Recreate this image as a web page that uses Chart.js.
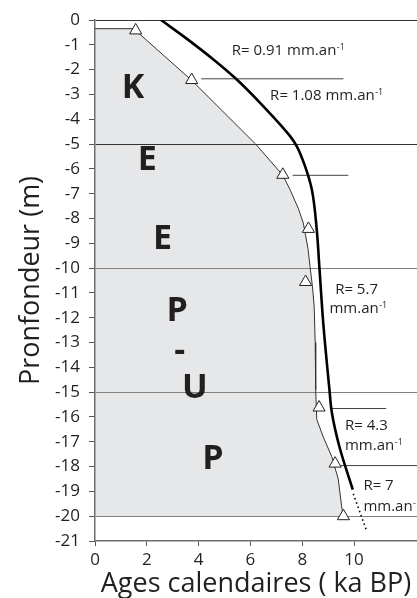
<!DOCTYPE html>
<html><head><meta charset="utf-8">
<script src="https://cdn.jsdelivr.net/npm/chart.js@4"></script>
<style>html,body{margin:0;padding:0;background:#fff}canvas{display:block}</style>
</head><body>
<canvas id="c" width="417" height="598"></canvas>
<script>
// Depth profile (thin line, filled area) : age (ka BP) vs depth (m)
const profileAges   = [0, 1.5, 1.6, 3.75, 6.2, 7.25, 7.53, 7.85, 8.04, 8.22, 8.3, 8.4, 8.46, 8.5, 8.52, 8.56, 8.81, 9.14, 9.39, 9.52, 9.58];
const profileDepths = [-0.35, -0.35, -0.45, -2.45, -5.0, -6.26, -6.84, -7.6, -8.18, -9.2, -9.93, -10.8, -11.54, -13.0, -14.9, -16.1, -16.8, -17.6, -18.5, -19.6, -20.0];
// Age model (thick line)
const modelAges   = [2.55, 3.6, 4.57, 5.4, 6.5, 7.53, 7.79, 8.11, 8.37, 8.56, 8.66, 8.81, 9.05, 9.14, 9.43, 9.95];
const modelDepths = [0, -0.8, -1.59, -2.33, -3.48, -4.68, -5.09, -5.9, -6.83, -8.45, -9.93, -12.2, -14.9, -15.8, -17.18, -18.93];
// Extrapolation (dotted)
const extAges   = [9.97, 10.49];
const extDepths = [-19.1, -20.6];
// Dated samples (triangles)
const sampleAges   = [1.57, 3.73, 7.25, 8.24, 8.13, 8.65, 9.27, 9.59];
const sampleDepths = [-0.42, -2.42, -6.24, -8.42, -10.56, -15.62, -17.88, -20.0];
// Short horizontal marker lines
const markStart = [4.1, 7.63, 9.07, 9.46];
const markEnd   = [9.59, 9.78, 11.24, 12.43];
const markDepth = [-2.37, -6.26, -15.66, -17.96];
// Sedimentation rate labels
const rateTexts  = ['R= 0.91 mm.an', 'R= 1.08 mm.an', 'R= 5.7', 'mm.an', 'R= 4.3', 'mm.an', 'R= 7', 'mm.an'];
const rateSups   = ['-1', '-1', '', '-1', '', '-1', '', '-1'];
const rateAges   = [5.28, 6.76, 9.27, 9.05, 9.65, 9.65, 10.36, 10.36];
const rateDepths = [-1.43, -3.23, -11.03, -11.81, -16.54, -17.32, -18.93, -19.8];
// Unit letters
const unitLetters = ['K', 'E', 'E', 'P', '-', 'U', 'P'];
const unitAges    = [1.47, 2.02, 2.61, 3.17, 3.27, 3.85, 4.55];
const unitDepths  = [-3.14, -6.03, -9.23, -12.15, -13.73, -15.24, -18.1];
// Axis ticks
const ageTicks = [0, 2, 4, 6, 8, 10];
const ageMax = 12.43;
const depthMin = -21, depthMax = 0;

const pts = (xs, ys) => xs.map((x, i) => ({x, y: ys[i]}));
const INK = '#231f20';
const FONT = "'Open Sans'";

const markSets = markDepth.map((d, i) => ({
  data: [{x: markStart[i], y: d}, {x: markEnd[i], y: d}],
  borderColor: '#444', borderWidth: 1, pointRadius: 0, fill: false
}));

const textPlugin = {
  id: 'texts',
  afterDatasetsDraw(chart) {
    const {ctx, scales: {x, y}} = chart;
    ctx.save();
    ctx.fillStyle = INK;
    ctx.textBaseline = 'alphabetic';
    ctx.textAlign = 'center';
    ctx.font = "bold 34px " + FONT;
    unitLetters.forEach((t, i) => {
      ctx.fillText(t, x.getPixelForValue(unitAges[i]), y.getPixelForValue(unitDepths[i]));
    });
    ctx.textAlign = 'left';
    rateTexts.forEach((t, i) => {
      const px = x.getPixelForValue(rateAges[i]);
      const py = y.getPixelForValue(rateDepths[i]);
      ctx.font = "15px " + FONT;
      ctx.fillText(t, px, py);
      if (rateSups[i]) {
        const w = ctx.measureText(t).width;
        ctx.font = "9px " + FONT;
        ctx.fillText(rateSups[i], px + w + 0.5, py - 5);
      }
    });
    ctx.restore();
  }
};

new Chart(document.getElementById('c'), {
  type: 'line',
  data: {
    datasets: [
      {
        data: pts(sampleAges, sampleDepths), showLine: false,
        pointStyle: 'triangle', pointRadius: 7, pointBackgroundColor: '#fff',
        pointBorderColor: INK, pointBorderWidth: 1, fill: false
      },
      {
        data: pts(modelAges, modelDepths), borderColor: '#000', borderWidth: 2.6,
        pointRadius: 0, cubicInterpolationMode: 'monotone', fill: false
      },
      {
        data: pts(extAges, extDepths), borderColor: '#000', borderWidth: 1.6,
        borderDash: [1.5, 3], pointRadius: 0, fill: false
      },
      ...markSets,
      {
        data: pts(profileAges, profileDepths), borderColor: '#333', borderWidth: 1,
        pointRadius: 0, fill: 'origin', backgroundColor: '#e6e7e8'
      }
    ]
  },
  options: {
    responsive: false, animation: false, devicePixelRatio: 1,
    indexAxis: 'y',
    layout: {autoPadding: false, padding: {top: 20, left: 0, right: 0, bottom: 0}},
    plugins: {legend: {display: false}, tooltip: {enabled: false}, filler: {drawTime: 'beforeDraw'}},
    scales: {
      x: {
        type: 'linear', min: 0, max: ageMax,
        afterBuildTicks: s => { s.ticks = ageTicks.map(v => ({value: v})); },
        afterFit: s => { s.height = 57; s.paddingLeft = 0; s.paddingRight = 0; },
        ticks: {color: INK, font: {family: FONT, size: 17}, padding: 4, maxRotation: 0, autoSkip: false},
        grid: {color: 'transparent', tickColor: '#555', tickLength: 5, drawOnChartArea: false},
        border: {color: '#6d6e71', width: 1.5},
        title: {display: true, text: 'Ages calendaires ( ka BP)', color: INK, font: {family: FONT, size: 27, lineHeight: 1.0}, padding: {top: 0, bottom: 0}}
      },
      y: {
        type: 'linear', min: depthMin, max: depthMax,
        afterBuildTicks: s => { const t = []; for (let v = depthMax; v >= depthMin; v--) t.push({value: v}); s.ticks = t.reverse(); },
        afterFit: s => { s.width = 95; s.paddingTop = 0; s.paddingBottom = 0; },
        ticks: {color: INK, font: {family: FONT, size: 17}, padding: 9, autoSkip: false},
        grid: {
          color: c => { const v = c.tick && c.tick.value; if (v === 0 || v === -5) return '#333'; if (v === -10 || v === -15 || v === -20) return '#808080'; return 'transparent'; },
          tickColor: '#555', tickLength: 6, lineWidth: 1
        },
        border: {color: '#6d6e71', width: 1.5},
        title: {display: true, text: 'Pronfondeur (m)', color: INK, font: {family: FONT, size: 27}, padding: {top: 15, bottom: 0}}
      }
    }
  },
  plugins: [textPlugin]
});
</script>
</body></html>
